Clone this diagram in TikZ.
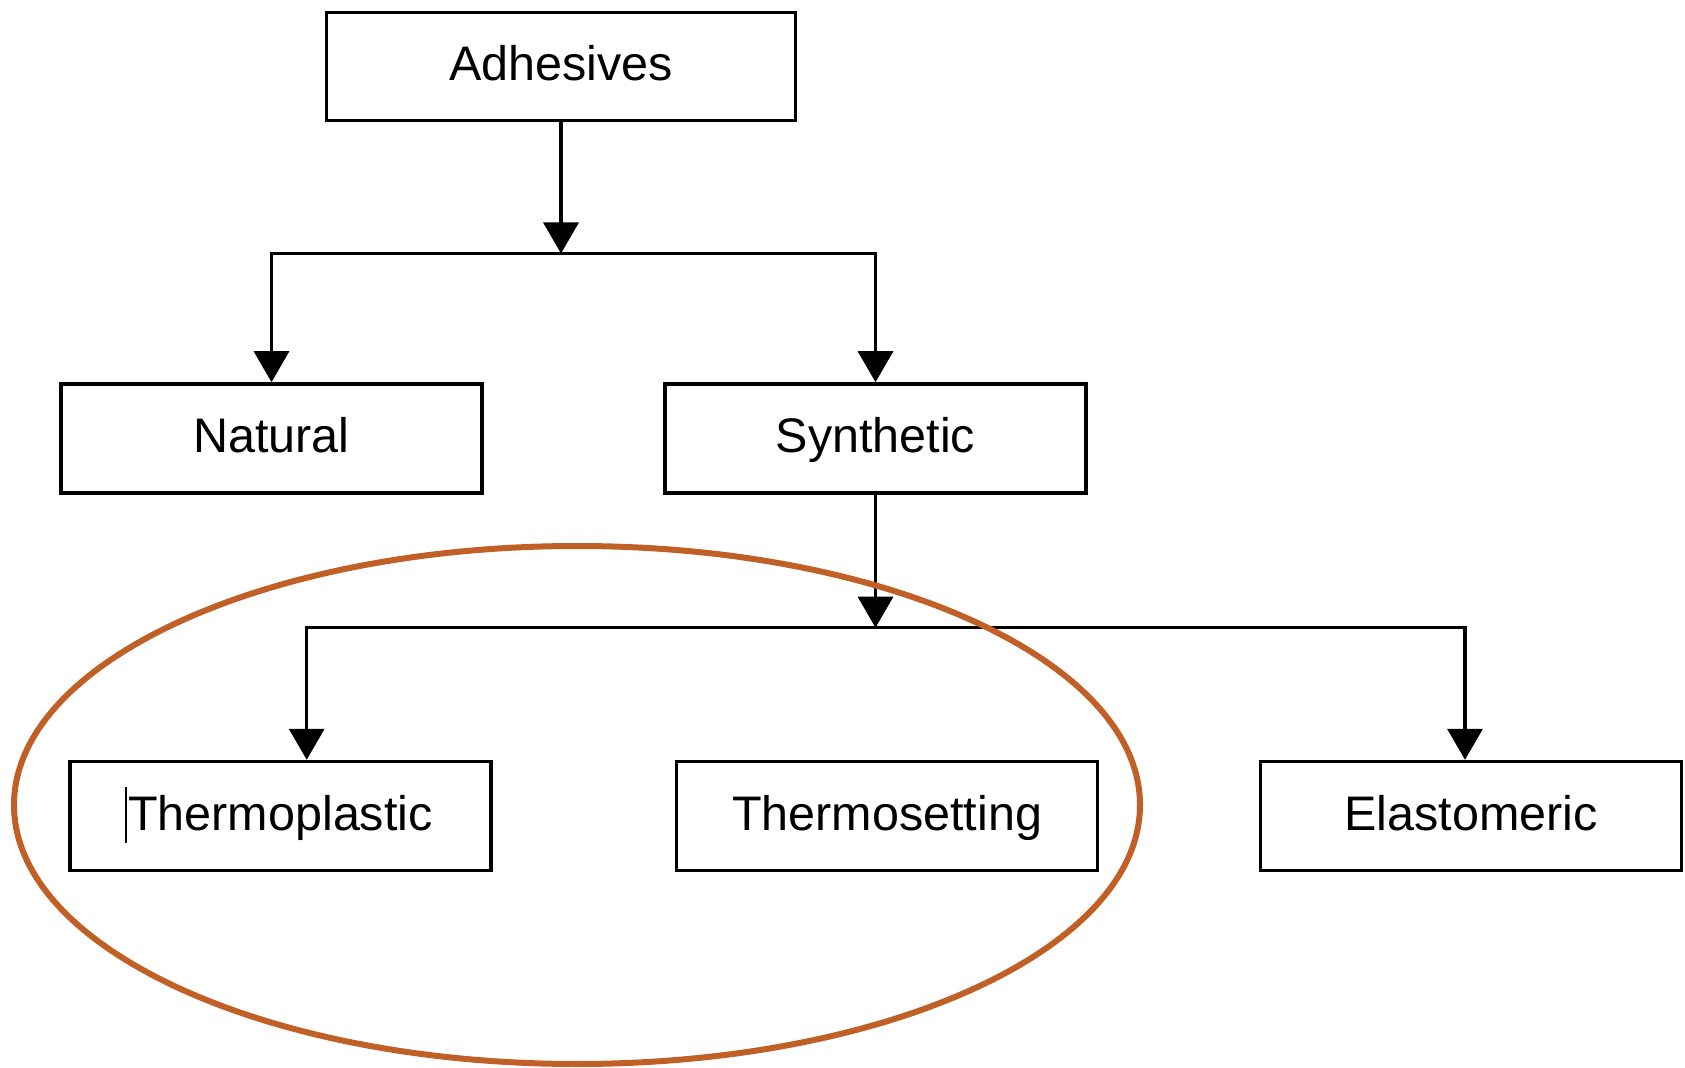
\documentclass[tikz,border=0pt]{standalone}
\usepackage{fontspec}
\setmainfont{Liberation Sans}
\usetikzlibrary{arrows.meta,calc,positioning}
\definecolor{adorange}{RGB}{193,96,38}

\begin{document}
\begin{tikzpicture}[x=.1mm,y=.1mm,font=\fontsize{13.8}{16}\selectfont,line width=.34mm,
    >={Triangle[width=3.5mm,length=3.1mm]},
    cls/.style={draw,inner sep=0pt,minimum width=42.1mm,minimum height=10.9mm,
      text height=3.5mm,text depth=.7mm}]
        \useasboundingbox (0,0) rectangle (1685,1067);
        \node[cls,minimum width=46.9mm,minimum height=10.8mm] (adh) at (561,1000.5) {Adhesives};
        \node[cls] (nat) at (271.5,628.6) {Natural};
        \node[cls] (syn) at (875.5,628.6) {Synthetic};
        \node[cls] (tplast) at (280.5,251) {Thermoplastic};
        \node[cls] (tset) at (887,251) {Thermosetting};
        \node[cls] (elast) at (1471,251) {Elastomeric};
        \coordinate (j1) at (561,813.5);
        \coordinate (j2) at (875.5,439.3);
        \coordinate (b1) at (306.7,439.3);
        \coordinate (b2) at (1465,439.3);
        \draw[->] (adh)--(j1);
        \draw[<->] (nat)|-(j1)-|(syn);
        \draw[->] (syn)--(j2);
        \draw[<->] (b1 |- tplast.north)|-(b2)--(b2 |- elast.north);
        \draw[line width=.15mm] (126,280.3)--(126,223.7);
        \draw[adorange,line width=.6mm] (577,262) ellipse [x radius=56.3mm,y radius=25.9mm];
      \end{tikzpicture}
\end{document}
